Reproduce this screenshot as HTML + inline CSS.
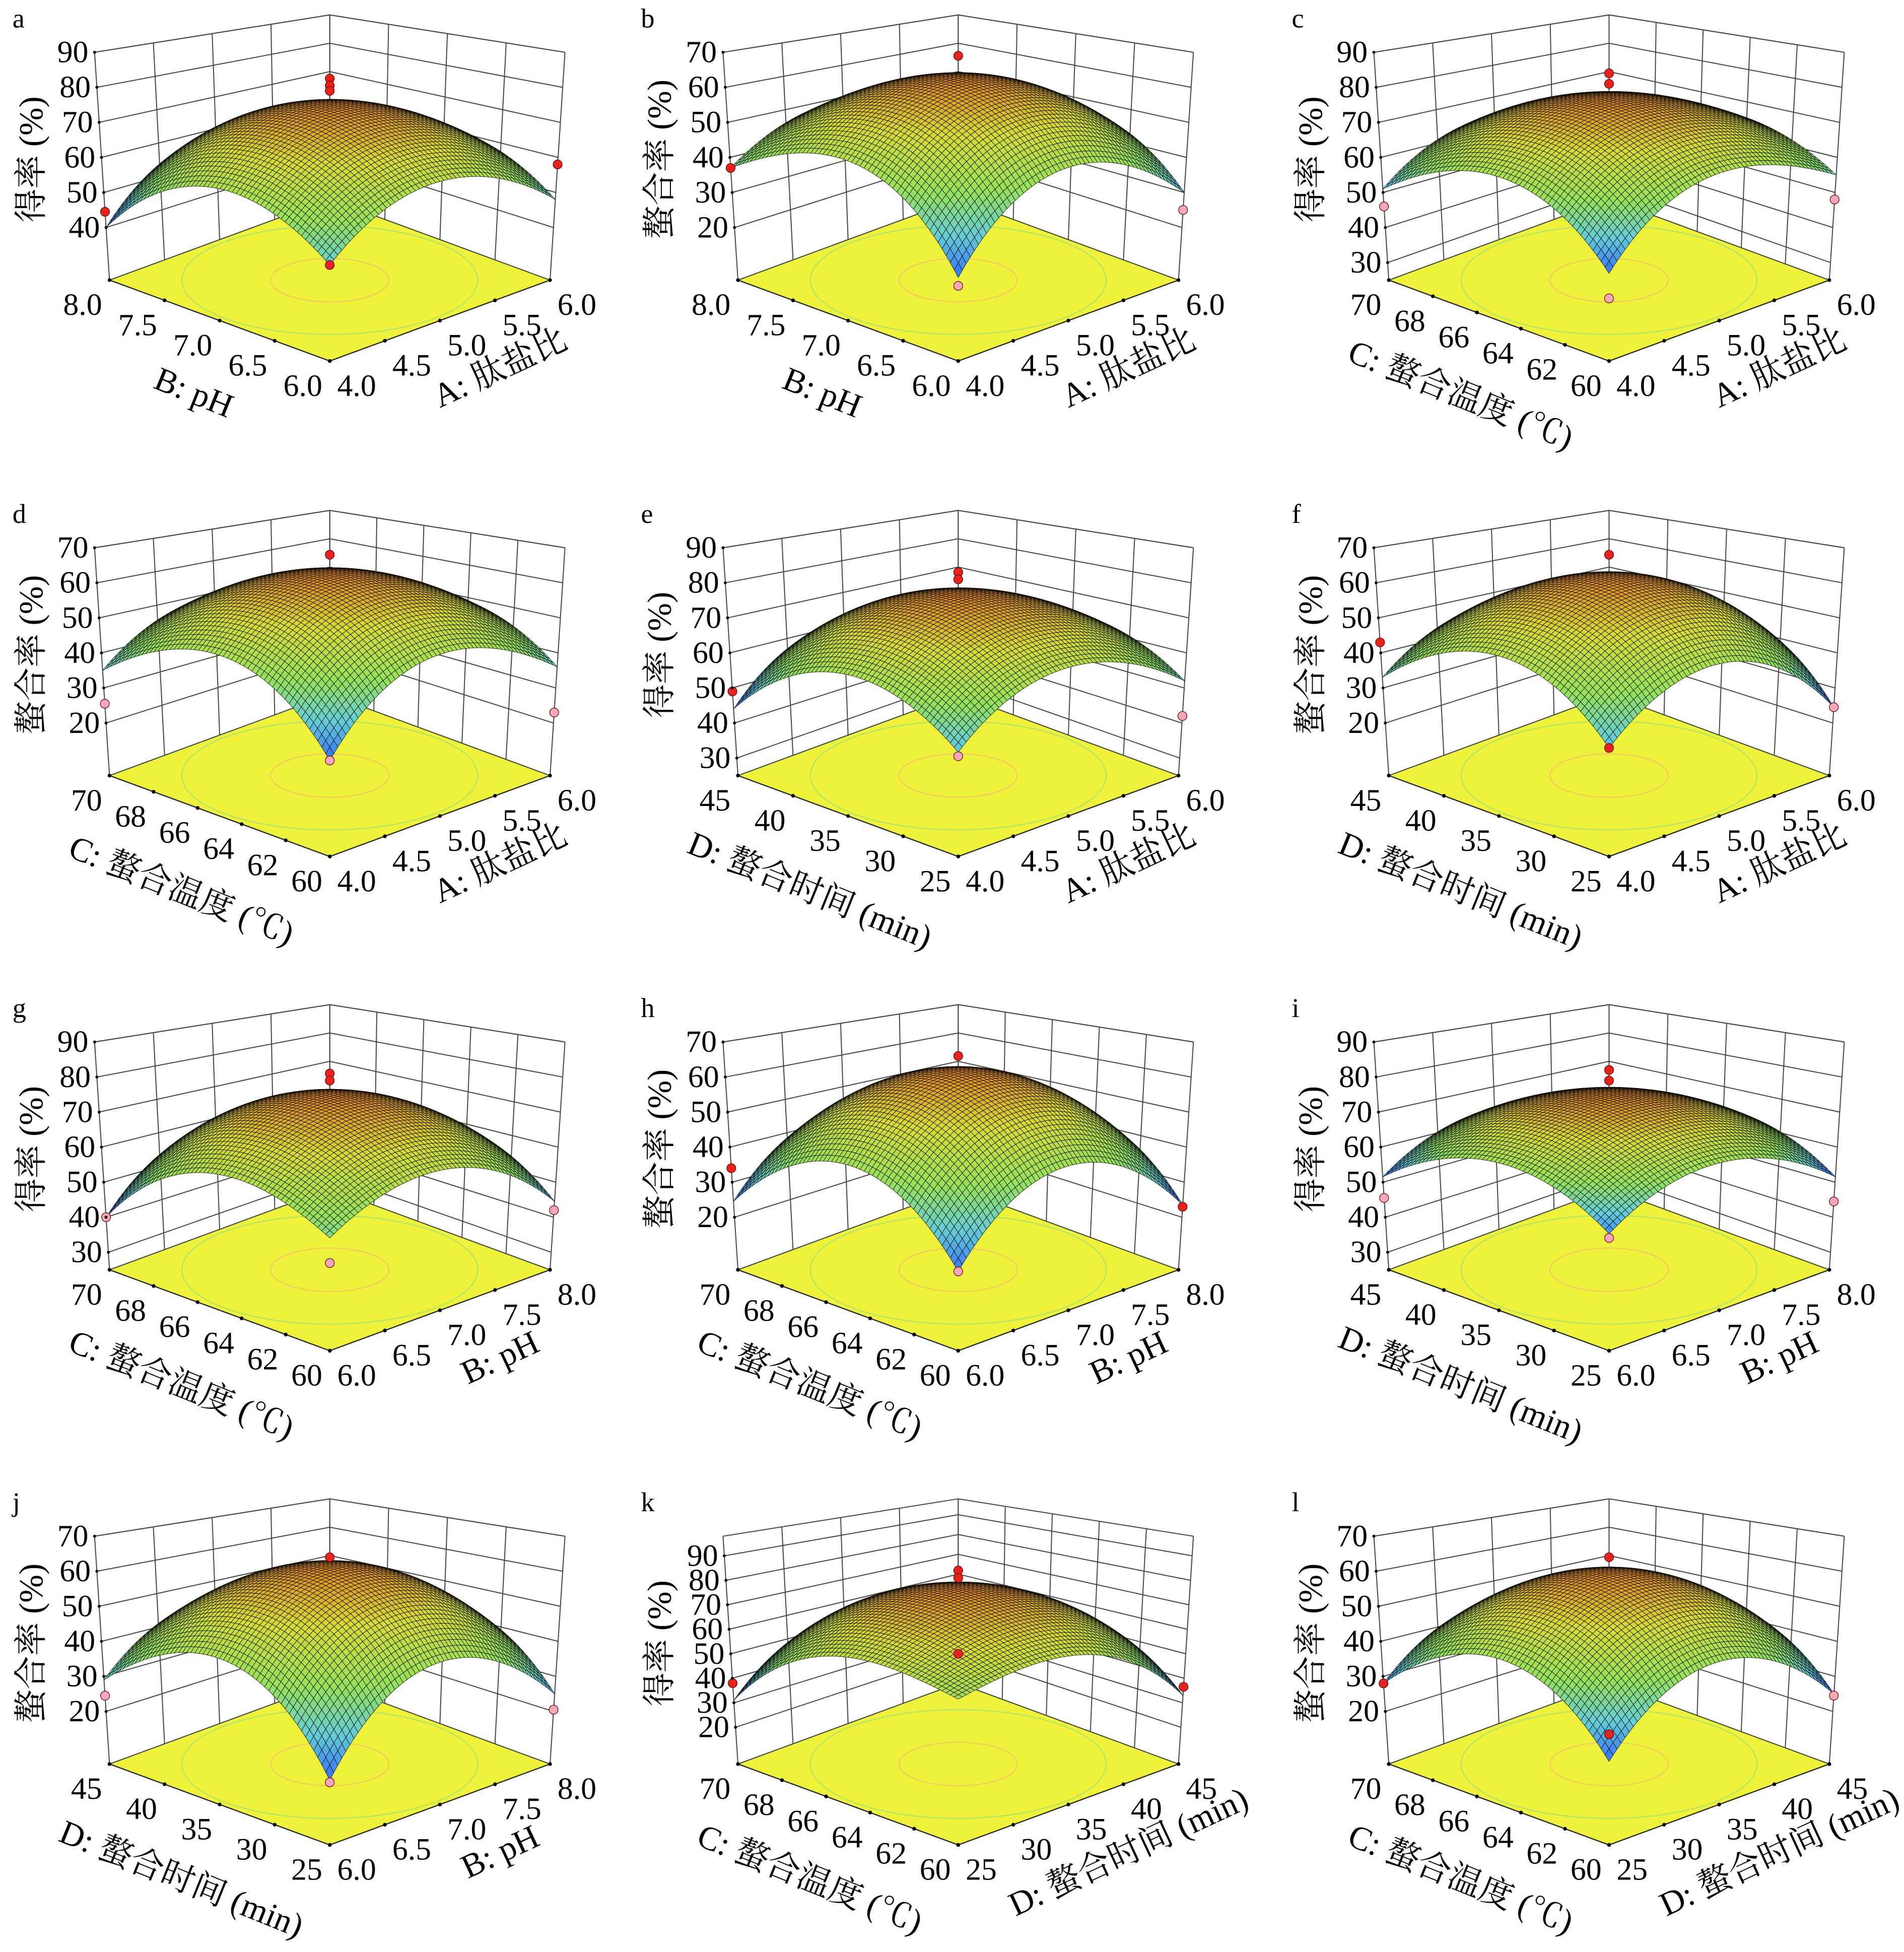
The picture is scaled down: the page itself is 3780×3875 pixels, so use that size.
<!DOCTYPE html>
<html><head><meta charset="utf-8">
<style>
html,body{margin:0;padding:0;background:#fff;}
svg{display:block;}
text{font-family:"Liberation Serif","Noto Serif CJK SC","Noto Sans CJK SC",serif;fill:#000;}
</style></head>
<body>
<svg id="fig" xmlns="http://www.w3.org/2000/svg" width="3780" height="3875" viewBox="0 0 1530 1568" preserveAspectRatio="none"></svg>
<script>
const panelLetters = ['a','b','c','d','e','f','g','h','i','j','k','l'];
const zTitles = ['得率 (%)','螯合率 (%)','得率 (%)','螯合率 (%)','得率 (%)','螯合率 (%)','得率 (%)','螯合率 (%)','得率 (%)','螯合率 (%)','得率 (%)','螯合率 (%)'];
const leftAxisKeys = ['B','B','C','C','D','D','C','C','D','D','C','C'];
const rightAxisKeys = ['A','A','A','A','A','A','B','B','B','B','D','D'];
const axisTitles = {A:'A: 肽盐比',B:'B: pH',C:'C: 螯合温度 (℃)',D:'D: 螯合时间 (min)'};
const tickLabelsA = ['4.0','4.5','5.0','5.5','6.0'];
const tickLabelsB = ['6.0','6.5','7.0','7.5','8.0'];
const tickLabelsC = ['60','62','64','66','68','70'];
const tickLabelsD = ['25','30','35','40','45'];
const zMins = [25,5,25,5,25,5,25,5,25,5,5,5];
const zMaxs = [90,70,90,70,90,70,90,70,90,70,98,70];
const zTicksYield = [40,50,60,70,80,90];
const zTicksYield3 = [30,40,50,60,70,80,90];
const zTicksChel = [20,30,40,50,60,70];
const zTicksK = [20,30,40,50,60,70,80,90];
const zTickSets = [zTicksYield,zTicksChel,zTicksYield3,zTicksChel,zTicksYield3,zTicksChel,zTicksYield3,zTicksChel,zTicksYield3,zTicksChel,zTicksK,zTicksChel];
const peakVals = [75,63,77,63,77,62,75,62,75,62,77,60];
const frontVals = [48,25,46,28,50,31,52,24,53,20.5,55,25];
const leftVals = [40,37,51,35,44,33,40,24.5,51.5,29,31,28];
const rightVals = [48,30,55,36,52,24.5,44.5,23.5,51.5,25,33,25];
const backVals = [44,33,53,35.5,48,29,42,24,51.5,27,32,26.5];
// design points
const ptPanel = [0,0,0,0,0,0, 1,1,1,1, 2,2,2,2,2, 3,3,3,3, 4,4,4,4,4, 5,5,5,5, 6,6,6,6,6, 7,7,7,7, 8,8,8,8,8, 9,9,9,9, 10,10,10,10,10, 11,11,11,11];
const ptA = [0.5,0.5,0.5,1,0,0, 0.5,1,0,0, 0.5,0.5,1,0,0, 0.5,1,0,0, 0.5,0.5,1,0,0, 0.5,1,0,0, 0.5,0.5,1,0,0, 0.5,1,0,0, 0.5,0.5,1,0,0, 0.5,1,0,0, 0.5,0.5,0.5,1,0, 0.5,1,0,0];
const ptB = [0.5,0.5,0.5,0,1,0, 0.5,0,1,0, 0.5,0.5,0,1,0, 0.5,0,1,0, 0.5,0.5,0,1,0, 0.5,0,1,0, 0.5,0.5,0,1,0, 0.5,0,1,0, 0.5,0.5,0,1,0, 0.5,0,1,0, 0.5,0.5,0.5,0,1, 0.5,0,1,0];
const ptZ = [82.5,80.5,79,44.5,58,48, 69,37,25,23, 84,81,46,48,40, 68,25.5,23,28, 83,81,49,42,49, 68,43,24.5,31, 81,79,40,42,46, 66,34,23,24, 82,79,45.5,44.5,52, 64,24.5,20.5,20, 84,81,50,38,36.5, 64,28,24.5,31.5];
const ptHigh = [1,1,1,1,1,1, 1,1,0,0, 1,1,0,0,0, 1,0,0,0, 1,1,1,0,0, 1,1,0,1, 1,1,0,0,0, 1,1,1,0, 1,1,0,0,0, 1,0,0,0, 1,1,1,1,1, 1,1,0,1];

const NS='http://www.w3.org/2000/svg';
const svg=document.getElementById('fig');
const colX=[0,505,1028], rowY=[0,398,795,1192];
const G={F:[265,290],L:[88,225],R:[442,225],B:[265,160],hF:218,hL:183,hR:183,hB:148,dxL:-12,dxR:12};
function tickLabels(k){return k==='A'?tickLabelsA:k==='B'?tickLabelsB:k==='C'?tickLabelsC:tickLabelsD;}
function mk(tag,attrs,parent){const e=document.createElementNS(NS,tag);for(const k in attrs)e.setAttribute(k,attrs[k]);parent.appendChild(e);return e;}

function drawPanel(p){
  const ox=colX[p%3], oy=rowY[Math.floor(p/3)];
  const g=mk('g',{transform:`translate(${ox},${oy})`},svg);
  
  
  const zmin=zMins[p], zmax=zMaxs[p];
  function proj(a,b,z){
    const wF=(1-a)*(1-b),wL=a*(1-b),wR=(1-a)*b,wB=a*b;
    const fx=wF*G.F[0]+wL*G.L[0]+wR*G.R[0]+wB*G.B[0];
    const fy=wF*G.F[1]+wL*G.L[1]+wR*G.R[1]+wB*G.B[1];
    const h=wF*G.hF+wL*G.hL+wR*G.hR+wB*G.hB;
    const dx=wL*G.dxL+wR*G.dxR;
    const f=(z-zmin)/(zmax-zmin);
    return [fx+dx*f, fy-h*f];
  }
  function surfZ(a,b){
    const u=2*a-1,v=2*b-1;
    const wF=(1-a)*(1-b),wL=a*(1-b),wR=(1-a)*b,wB=a*b;
    const P=peakVals[p];
    const d=wF*(frontVals[p]-P)+wL*(leftVals[p]-P)+wR*(rightVals[p]-P)+wB*(backVals[p]-P);
    return P+d*(u*u+v*v)/2;
  }
  const pt=q=>q[0].toFixed(2)+','+q[1].toFixed(2);
  const floor=mk('polygon',{points:[proj(0,0,zmin),proj(1,0,zmin),proj(1,1,zmin),proj(0,1,zmin)].map(pt).join(' '),fill:'#eef23a',stroke:'none'},g);
  
  
  const radii=[0.75,0.5,0.2], ccol=['#9fe060','#b0e468','#f2c860'];
  radii.forEach((r,i)=>{
    const pts=[];
    for(let k=0;k<=72;k++){const t=k/72*2*Math.PI;let a=0.5+r*Math.cos(t)*0.95,b=0.5+r*Math.sin(t)*0.95;a=Math.max(0,Math.min(1,a));b=Math.max(0,Math.min(1,b));pts.push(pt(proj(a,b,zmin)));}
    const c=mk('polyline',{points:pts.join(' '),fill:'none',stroke:ccol[i],'stroke-width':0.9},g);
    
    
  });
  const wall=mk('g',{stroke:'#444','stroke-width':0.8,fill:'none'},g);
  
  
  const zt=zTickSets[p];
  const zLines=zt.concat([zmax]);
  zLines.forEach(z=>{
    mk('polyline',{points:[proj(1,0,z),proj(1,1,z),proj(0,1,z)].map(pt).join(' ')},wall);
  });
  const lt=tickLabels(leftAxisKeys[p]), rt=tickLabels(rightAxisKeys[p]);
  lt.forEach((_,i)=>{const a=i/(lt.length-1);mk('line',{x1:proj(a,1,zmin)[0],y1:proj(a,1,zmin)[1],x2:proj(a,1,zmax)[0],y2:proj(a,1,zmax)[1]},wall);});
  rt.forEach((_,i)=>{const b=i/(rt.length-1);mk('line',{x1:proj(1,b,zmin)[0],y1:proj(1,b,zmin)[1],x2:proj(1,b,zmax)[0],y2:proj(1,b,zmax)[1]},wall);});
  mk('polyline',{points:[proj(1,0,zmin),proj(1,1,zmin),proj(0,1,zmin)].map(pt).join(' ')},wall);
  mk('polyline',{points:[proj(1,0,zmin),proj(0,0,zmin),proj(0,1,zmin)].map(pt).join(' '),fill:'none',stroke:'#222','stroke-width':0.9},g);
  const N=56;
  const zs=[];for(let i=0;i<=N;i++){zs.push([]);for(let j=0;j<=N;j++)zs[i].push(surfZ(i/N,j/N));}
  let smin=Infinity,smax=-Infinity;zs.forEach(r=>r.forEach(z=>{smin=Math.min(smin,z);smax=Math.max(smax,z);}));
  const stops=[[0,[50,110,250]],[0.22,[100,205,215]],[0.45,[150,225,90]],[0.75,[215,220,50]],[1,[225,140,30]]];
  function col(t){for(let k=1;k<stops.length;k++){if(t<=stops[k][0]){const s0=stops[k-1],s1=stops[k];const f=(t-s0[0])/(s1[0]-s0[0]);return 'rgb('+s0[1].map((c,m)=>Math.round(c+(s1[1][m]-c)*f)).join(',')+')';}}return 'rgb(225,140,30)';}
  const sg=mk('g',{stroke:'rgba(0,0,0,0.75)','stroke-width':0.4},g);
  
  
  const cells=[];for(let i=0;i<N;i++)for(let j=0;j<N;j++)cells.push([i,j]);
  cells.sort((c1,c2)=>(c2[0]+c2[1])-(c1[0]+c1[1]));
  cells.forEach(([i,j])=>{
    const z=(zs[i][j]+zs[i+1][j]+zs[i][j+1]+zs[i+1][j+1])/4;
    const c=col((z-smin)/(smax-smin));
    const q=[proj(i/N,j/N,zs[i][j]),proj((i+1)/N,j/N,zs[i+1][j]),proj((i+1)/N,(j+1)/N,zs[i+1][j+1]),proj(i/N,(j+1)/N,zs[i][j+1])];
    mk('path',{d:'M'+q.map(pt).join('L')+'Z',fill:c},sg);
  });
  for(let k=0;k<ptPanel.length;k++){
    if(ptPanel[k]!==p)continue;
    const q=proj(ptA[k],ptB[k],ptZ[k]);
    const c=mk('circle',{cx:q[0],cy:q[1],r:3.6,fill:ptHigh[k]?'#e8221c':'#f4a8b8',stroke:'#600','stroke-width':0.5},g);
    
    
  }
  zt.forEach(z=>{
    const q=proj(1,0,z);
    const t=mk('text',{x:q[0]-5,y:q[1]+8,'text-anchor':'end','font-size':25},g);t.textContent=z;
    
    
    mk('circle',{cx:q[0],cy:q[1],r:1.2,fill:'#000'},g);
  });
  lt.forEach((s,i)=>{
    const a=i/(lt.length-1);const q=proj(a,0,zmin);
    mk('circle',{cx:q[0],cy:q[1],r:1.5,fill:'#000'},g);
    const t=mk('text',{x:q[0]-6,y:q[1]+28,'text-anchor':'end','font-size':25},g);t.textContent=s;
    
    
  });
  rt.forEach((s,i)=>{
    const b=i/(rt.length-1);const q=proj(0,b,zmin);
    mk('circle',{cx:q[0],cy:q[1],r:1.5,fill:'#000'},g);
    const t=mk('text',{x:q[0]+6,y:q[1]+28,'text-anchor':'start','font-size':25},g);t.textContent=s;
    
    
  });
  const ml=proj(0.5,0,zmin), mr=proj(0,0.5,zmin);
  const lk=leftAxisKeys[p], rk=rightAxisKeys[p];
  const t1=mk('text',{x:0,y:0,'text-anchor':'middle','font-size':27,transform:`translate(${ml[0]-(lk==='B'?24:34)},${ml[1]+(lk==='B'?66:68)}) rotate(22)`},g);t1.textContent=axisTitles[lk];
  
  
  const t2=mk('text',{x:0,y:0,'text-anchor':'middle','font-size':27,transform:`translate(${mr[0]+52},${mr[1]+46}) rotate(-25)`},g);t2.textContent=axisTitles[rk];
  
  
  const t3=mk('text',{x:0,y:0,'text-anchor':'middle','font-size':27,transform:'translate(34,128) rotate(-90)'},g);t3.textContent=zTitles[p];
  
  
  const t4=mk('text',{x:10,y:22,'font-size':22},g);t4.textContent=panelLetters[p];
  
  
}
for(let p=0;p<12;p++)drawPanel(p);
</script>
</body></html>
